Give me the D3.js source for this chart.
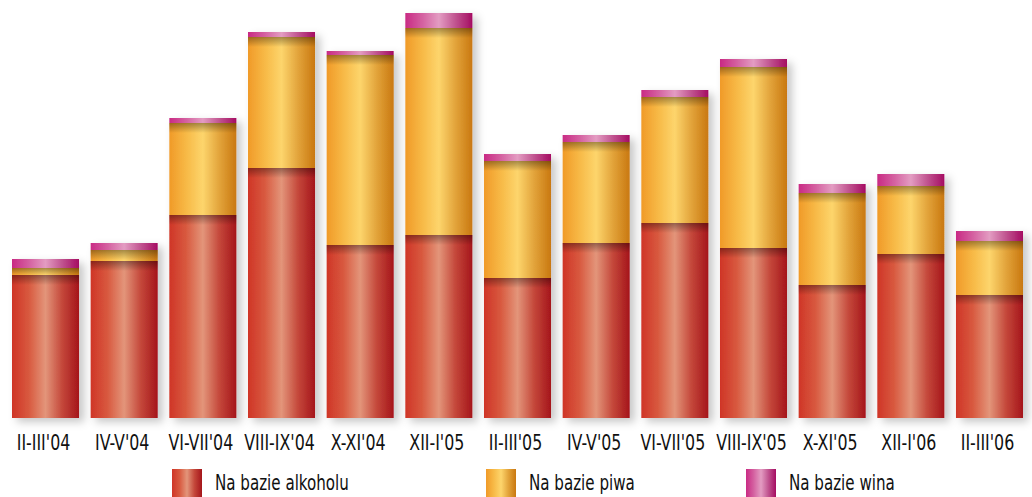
<!DOCTYPE html>
<html>
<head>
<meta charset="utf-8">
<script src="https://cdn.jsdelivr.net/npm/d3@7"></script>
<style>
  body { margin: 0; background: #fff; }
  text { font-family: "DejaVu Sans Condensed", "Liberation Sans Narrow", "DejaVu Sans", sans-serif; fill: #111; }
</style>
</head>
<body>
<div id="chart"></div>
<script>
// data (unitless, no value axis in the original)
var periods = ["II-III'04", "IV-V'04", "VI-VII'04", "VIII-IX'04", "X-XI'04", "XII-I'05",
               "II-III'05", "IV-V'05", "VI-VII'05", "VIII-IX'05", "X-XI'05", "XII-I'06", "II-III'06"];
var alkohol = [143, 157, 203, 250, 173, 183, 140, 175, 195, 170, 133, 164, 123];
var piwo    = [7, 11, 92, 131, 190, 207, 117, 101, 126, 181, 92, 68, 54];
var wino    = [9, 7, 5, 5, 4, 15, 7, 7, 7, 8, 9, 12, 10];
var seriesNames = ["Na bazie alkoholu", "Na bazie piwa", "Na bazie wina"];

var width = 1032, height = 497;

var svg = d3.select("#chart")
  .append("svg")
    .attr("width", width)
    .attr("height", height);

var defs = svg.append("defs");

// horizontal "cylinder" gradients, one per series
var gradStops = [
  ["#cf3527", "#d8593f", "#e3957a", "#c4473a", "#a5151b"],
  ["#f09a28", "#f7b946", "#fdd56c", "#e2a33a", "#c97810"],
  ["#c92a84", "#d460a0", "#e39cc2", "#c0538f", "#a50c62"]
];
var gradOffsets = [0, 0.25, 0.5, 0.75, 1];
gradStops.forEach(function(stops, i) {
  var g = defs.append("linearGradient")
      .attr("id", "grad" + i)
      .attr("x1", "0%").attr("x2", "100%")
      .attr("y1", "0%").attr("y2", "0%");
  stops.forEach(function(c, j) {
    g.append("stop").attr("offset", gradOffsets[j]).attr("stop-color", c);
  });
});

// shade cast by the upper segment on the one below
var shade = defs.append("linearGradient")
    .attr("id", "shade")
    .attr("x1", "0").attr("x2", "0").attr("y1", "0").attr("y2", "1");
shade.append("stop").attr("offset", 0).attr("stop-color", "#000").attr("stop-opacity", 0.35);
shade.append("stop").attr("offset", 1).attr("stop-color", "#000").attr("stop-opacity", 0);

var shadow = defs.append("filter")
    .attr("id", "shadow")
    .attr("x", "-20%").attr("y", "-10%")
    .attr("width", "150%").attr("height", "130%");
shadow.append("feDropShadow")
    .attr("dx", 5).attr("dy", 4)
    .attr("stdDeviation", 4)
    .attr("flood-color", "#000")
    .attr("flood-opacity", 0.22);

// scales
var x = d3.scaleBand()
    .domain(periods)
    .range([12, 1023])
    .paddingInner(0.148)
    .paddingOuter(0);

var y = d3.scaleLinear()
    .domain([0, 405])
    .range([418, 13]);

// stack the three series
var table = periods.map(function(p, i) {
  return {period: p, alkohol: alkohol[i], piwo: piwo[i], wino: wino[i]};
});
var stack = d3.stack().keys(["alkohol", "piwo", "wino"]);
var layers = stack(table);

// one group per bar so the shadow falls from the whole column
var bars = svg.selectAll("g.bar")
  .data(table)
  .enter()
  .append("g")
    .attr("class", "bar")
    .attr("filter", "url(#shadow)");

bars.each(function(d, i) {
  var g = d3.select(this);
  layers.forEach(function(layer, k) {
    var seg = layer[i];
    g.append("rect")
      .attr("x", x(d.period))
      .attr("width", x.bandwidth())
      .attr("y", y(seg[1]))
      .attr("height", y(seg[0]) - y(seg[1]))
      .attr("fill", "url(#grad" + k + ")");
  });
});

// shading under the segment boundaries
layers.slice(0, 2).forEach(function(layer) {
  svg.append("g")
    .selectAll("rect")
    .data(layer)
    .enter()
    .append("rect")
      .attr("x", function(d) { return x(d.data.period); })
      .attr("width", x.bandwidth())
      .attr("y", function(d) { return y(d[1]); })
      .attr("height", function(d) { return Math.min(10, y(d[0]) - y(d[1])); })
      .attr("fill", "url(#shade)");
});

// category labels (squeezed to look like a condensed face)
svg.append("g")
  .selectAll("text")
  .data(periods)
  .enter()
  .append("text")
    .attr("transform", function(d) {
      return "translate(" + (x(d) + x.bandwidth() / 2 - 2) + ",450) scale(0.8,1)";
    })
    .attr("text-anchor", "middle")
    .style("font-size", "22px")
    .text(function(d) { return d; });

// legend
var legendX = [172, 486, 746];
var legend = svg.append("g")
  .selectAll("g")
  .data(seriesNames)
  .enter()
  .append("g");

legend.append("rect")
    .attr("x", function(d, i) { return legendX[i]; })
    .attr("y", 469)
    .attr("width", 30)
    .attr("height", 30)
    .attr("fill", function(d, i) { return "url(#grad" + i + ")"; });

legend.append("text")
    .attr("transform", function(d, i) {
      return "translate(" + (legendX[i] + 43) + ",490) scale(0.8,1)";
    })
    .style("font-size", "21px")
    .text(function(d) { return d; });
</script>
</body>
</html>
